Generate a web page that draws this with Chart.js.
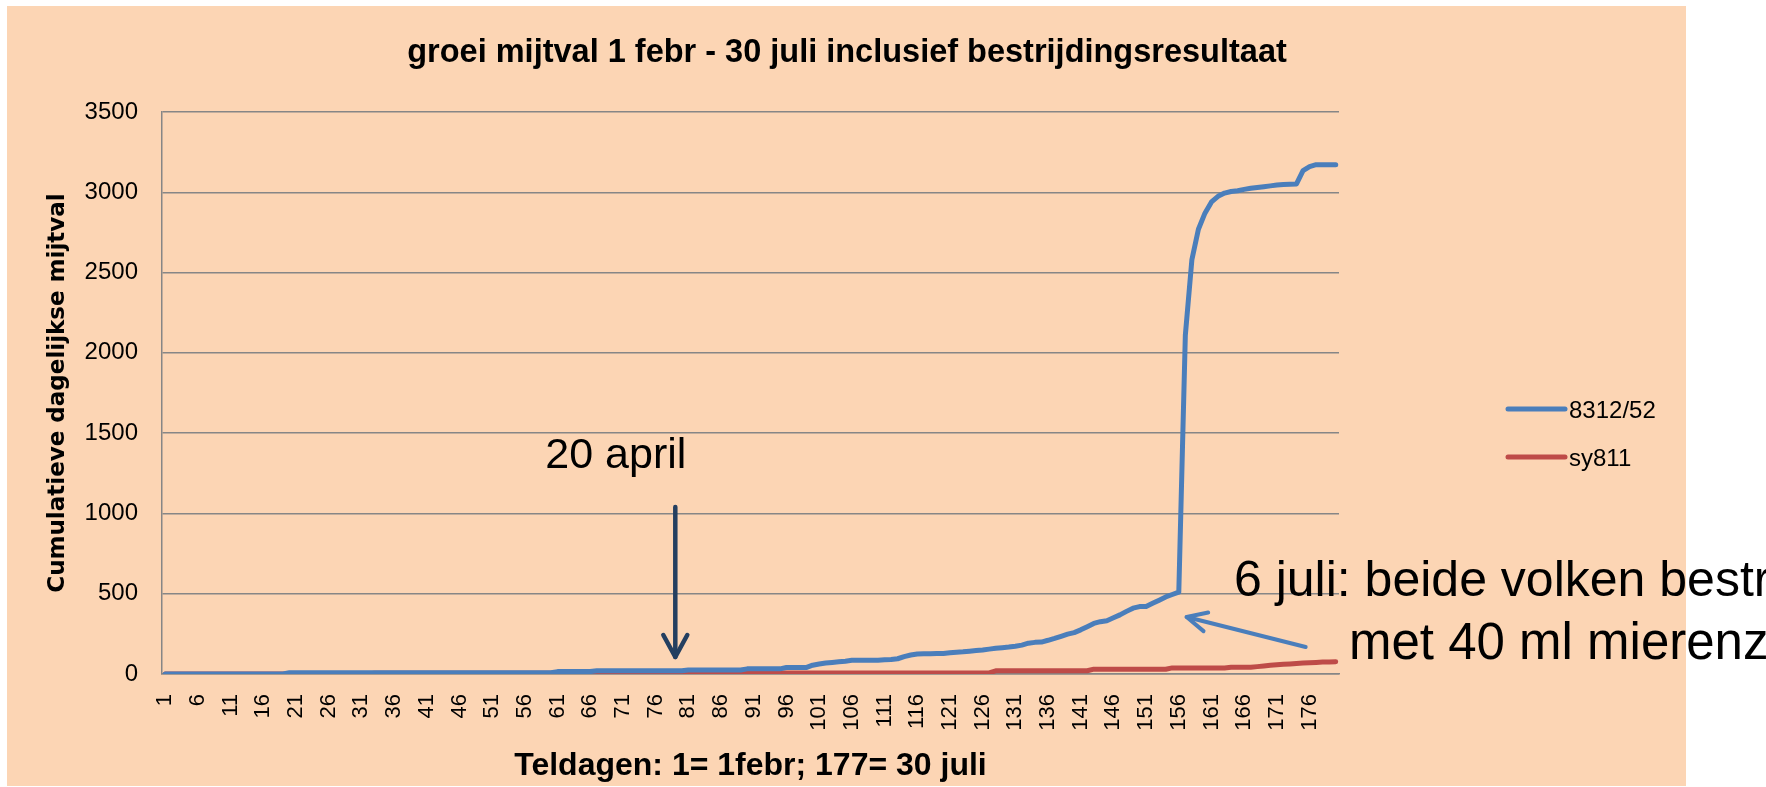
<!DOCTYPE html>
<html>
<head>
<meta charset="utf-8">
<title>groei mijtval</title>
<script src="https://cdn.jsdelivr.net/npm/chart.js@4.4.1/dist/chart.umd.min.js"></script>
<style>
    html, body { margin: 0; padding: 0; background: #ffffff; }
    #wrap { width: 1766px; height: 787px; }
</style>
</head>
<body>
<div id="wrap"><canvas id="mijtChart" width="1766" height="787"></canvas></div>
<script>
// --- DATA ---
// teldagen 1..180 (1 = 1 febr)
const days = Array.from({ length: 180 }, (_, i) => String(i + 1));

// cumulatieve dagelijkse mijtval
const serie8312 = [
    0, 0, 0, 0, 0, 0, 0, 0, 0, 0,
    0, 0, 0, 0, 0, 0, 0, 0, 0, 8,
    8, 8, 8, 8, 8, 8, 8, 8, 8, 8,
    8, 8, 8, 8, 8, 8, 8, 8, 8, 8,
    8, 8, 8, 8, 8, 8, 8, 8, 8, 8,
    8, 8, 8, 8, 8, 8, 8, 8, 8, 8,
    15, 15, 15, 15, 15, 15, 20, 20, 20, 20,
    20, 20, 20, 20, 20, 20, 20, 20, 20, 20,
    25, 25, 25, 25, 25, 25, 25, 25, 25, 32,
    32, 32, 32, 32, 32, 40, 40, 40, 40, 55,
    62, 68, 72, 76, 80, 85, 86, 86, 86, 86,
    88, 90, 95, 108, 118, 124, 126, 126, 127, 128,
    132, 136, 138, 142, 146, 150, 155, 160, 164, 168,
    173, 180, 192, 197, 199, 210, 222, 235, 248, 258,
    275, 295, 315, 326, 332, 350, 368, 390, 410, 420,
    420, 440, 460, 480, 495, 510, 2110, 2580, 2770, 2870,
    2940, 2975, 2995, 3005, 3010, 3018, 3025, 3030, 3035, 3040,
    3045, 3048, 3050, 3052, 3135, 3160, 3172, 3172, 3172, 3172
];

const serieSy811 = [
    0, 0, 0, 0, 0, 0, 0, 0, 0, 0,
    0, 0, 0, 0, 0, 0, 0, 0, 0, 0,
    0, 0, 0, 0, 0, 0, 0, 0, 0, 0,
    0, 0, 4, 4, 4, 4, 4, 4, 4, 4,
    4, 4, 4, 4, 4, 4, 4, 4, 4, 4,
    4, 4, 4, 4, 4, 4, 4, 4, 4, 4,
    7, 7, 7, 7, 7, 7, 7, 7, 7, 7,
    7, 7, 7, 7, 7, 7, 7, 7, 7, 7,
    7, 7, 7, 7, 7, 7, 7, 7, 7, 7,
    7, 7, 7, 7, 7, 7, 7, 7, 7, 7,
    7, 7, 7, 7, 7, 7, 7, 7, 7, 7,
    7, 7, 7, 7, 7, 7, 7, 7, 7, 7,
    7, 7, 7, 7, 7, 7, 7, 20, 20, 20,
    20, 20, 20, 20, 20, 20, 20, 20, 20, 20,
    20, 20, 30, 30, 30, 30, 30, 30, 30, 30,
    30, 30, 30, 30, 38, 38, 38, 38, 38, 38,
    38, 38, 38, 42, 42, 42, 42, 46, 50, 54,
    57, 60, 63, 66, 68, 70, 72, 74, 75, 76
];

const seriesNames = ['8312/52', 'sy811'];
const seriesColors = ['#4A7EBB', '#BE4B48'];
const yMax = 3500;
const yStep = 500;

const chartTitle = 'groei mijtval 1 febr - 30 juli inclusief bestrijdingsresultaat';
const yTitle = 'Cumulatieve dagelijkse mijtval';
const xTitle = 'Teldagen: 1= 1febr; 177= 30 juli';

const FONT = "'Liberation Sans', Arial, sans-serif";
const FONT_WIDE = "'DejaVu Sans', Verdana, sans-serif";

// --- TEKST EN PIJLEN OP DE GRAFIEK ---
function drawArrow(ctx, x1, y1, x2, y2, color, width, wing, spread) {
    const ang = Math.atan2(y2 - y1, x2 - x1);
    ctx.strokeStyle = color;
    ctx.lineWidth = width;
    ctx.lineCap = 'round';
    ctx.lineJoin = 'round';
    ctx.beginPath();
    ctx.moveTo(x1, y1);
    ctx.lineTo(x2, y2);
    ctx.stroke();
    ctx.beginPath();
    ctx.moveTo(x2 - wing * Math.cos(ang - spread), y2 - wing * Math.sin(ang - spread));
    ctx.lineTo(x2, y2);
    ctx.lineTo(x2 - wing * Math.cos(ang + spread), y2 - wing * Math.sin(ang + spread));
    ctx.stroke();
}

const decorPlugin = {
    id: 'decor',
    beforeDraw(chart) {
        const ctx = chart.ctx;
        ctx.save();
        ctx.fillStyle = '#ffffff';
        ctx.fillRect(0, 0, chart.width, chart.height);
        ctx.fillStyle = '#FCD5B4';
        ctx.fillRect(7, 6, 1679, 780);
        ctx.restore();
    },
    afterDraw(chart) {
        const ctx = chart.ctx;
        const x = chart.scales.x;
        const y = chart.scales.y;
        const area = chart.chartArea;
        ctx.save();
        ctx.fillStyle = '#000000';

        // titel
        ctx.font = 'bold 32.5px ' + FONT;
        ctx.textAlign = 'center';
        ctx.textBaseline = 'alphabetic';
        ctx.fillText(chartTitle, 847, 62);

        // x-as titel
        ctx.font = 'bold 32px ' + FONT;
        ctx.fillText(xTitle, (area.left + area.right) / 2, 775);

        // y-as titel
        ctx.save();
        ctx.translate(64, (area.top + area.bottom) / 2);
        ctx.rotate(-Math.PI / 2);
        ctx.font = 'bold 23px ' + FONT_WIDE;
        ctx.fillText(yTitle, 0, 0);
        ctx.restore();

        // legenda
        ctx.textAlign = 'left';
        ctx.font = '24px ' + FONT;
        seriesNames.forEach((name, i) => {
            const ly = 409 + i * 48;
            ctx.strokeStyle = seriesColors[i];
            ctx.lineWidth = 5;
            ctx.lineCap = 'round';
            ctx.beginPath();
            ctx.moveTo(1508, ly);
            ctx.lineTo(1565, ly);
            ctx.stroke();
            ctx.fillText(name, 1569, ly + 8.5);
        });

        // 20 april (dag 79)
        ctx.font = '43px ' + FONT;
        ctx.fillText('20 april', x.getPixelForValue(78) - 130, y.getPixelForValue(1283));
        drawArrow(ctx, x.getPixelForValue(78), y.getPixelForValue(1040),
            x.getPixelForValue(78), y.getPixelForValue(106), '#243F60', 4.5, 25, 0.5);

        // 6 juli: bestrijding
        ctx.font = '50px ' + FONT;
        ctx.fillText('6 juli: beide volken bestreden', 1234, 596);
        ctx.font = '51px ' + FONT;
        ctx.fillText('met 40 ml mierenzuur', 1349, 659);
        drawArrow(ctx, x.getPixelForValue(174.4), y.getPixelForValue(168),
            x.getPixelForValue(156.2), y.getPixelForValue(355), '#4A7EBB', 4, 22, 0.45);

        ctx.restore();
    }
};

// --- GRAFIEK ---
const ctx = document.getElementById('mijtChart').getContext('2d');

new Chart(ctx, {
    type: 'line',
    data: {
        labels: days,
        datasets: [
            { label: seriesNames[0], data: serie8312, borderColor: seriesColors[0] },
            { label: seriesNames[1], data: serieSy811, borderColor: seriesColors[1] }
        ]
    },
    options: {
        responsive: false,
        animation: false,
        layout: { padding: { left: 22, right: 427, top: 112, bottom: 13 } },
        plugins: {
            legend: { display: false },
            title: { display: false },
            tooltip: { enabled: false }
        },
        elements: {
            point: { radius: 0 },
            line: { borderWidth: 5, borderCapStyle: 'round', borderJoinStyle: 'round', tension: 0, fill: false }
        },
        scales: {
            x: {
                offset: true,
                grid: { display: false, drawTicks: false },
                border: { display: true, color: '#868686', width: 1.5 },
                ticks: {
                    autoSkip: false,
                    maxRotation: 90,
                    minRotation: 90,
                    padding: 20,
                    color: '#000000',
                    font: { family: FONT, size: 22 },
                    callback: (v, i) => (i % 5 === 0 ? days[i] : '')
                },
                afterFit: s => { s.height = 100; }
            },
            y: {
                min: 0,
                max: yMax,
                grid: { color: '#868686', lineWidth: 1.5, drawTicks: false },
                border: { display: true, color: '#868686', width: 1.5 },
                ticks: {
                    stepSize: yStep,
                    padding: 24,
                    color: '#000000',
                    font: { family: FONT, size: 24 },
                    callback: v => String(v)
                },
                afterFit: s => { s.width = 140; }
            }
        }
    },
    plugins: [decorPlugin]
});
</script>
</body>
</html>
